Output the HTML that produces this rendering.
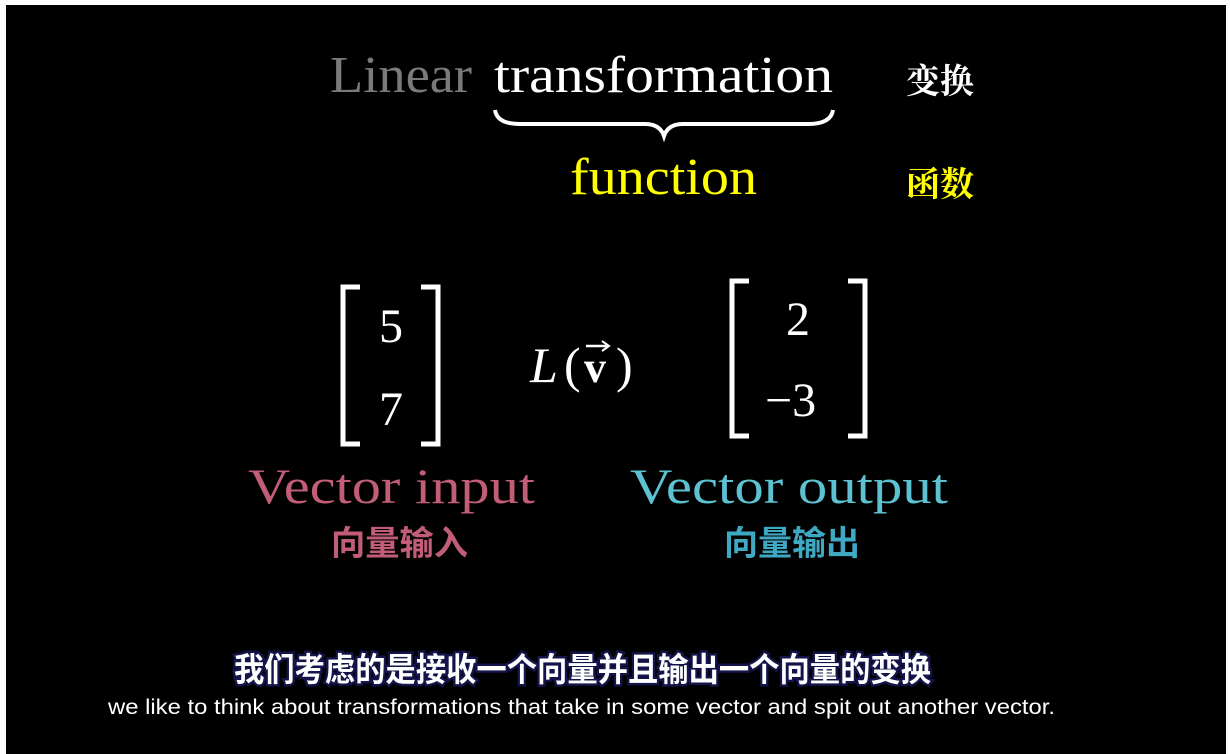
<!DOCTYPE html>
<html><head><meta charset="utf-8"><style>
html,body{margin:0;padding:0;background:#fff;}
svg{display:block}
</style></head><body>
<svg width="1230" height="754" viewBox="0 0 1230 754" xmlns="http://www.w3.org/2000/svg">
<rect x="0" y="0" width="1230" height="754" fill="#fff"/>
<rect x="6" y="5" width="1220" height="749" fill="#000"/>
<g font-family="'Liberation Serif', serif">
<text x="330" y="92" font-size="52" fill="#7a7a7a" textLength="142" lengthAdjust="spacingAndGlyphs">Linear</text>
<text x="494" y="92" font-size="52" fill="#fff" textLength="339" lengthAdjust="spacingAndGlyphs">transformation</text>
<text x="570" y="194" font-size="52" fill="#ffff00" textLength="187" lengthAdjust="spacingAndGlyphs">function</text>
<text x="379" y="342" font-size="48" fill="#fff">5</text>
<text x="379" y="425" font-size="48" fill="#fff">7</text>
<text x="786" y="335" font-size="48" fill="#fff">2</text>
<text x="765" y="416" font-size="48" fill="#fff">−3</text>
<text x="530" y="382" font-size="50" fill="#fff" font-style="italic">L</text>
<text x="564" y="382" font-size="50" fill="#fff">(</text>
<text x="584" y="382" font-size="44" fill="#fff" font-weight="bold">v</text>
<text x="616" y="382" font-size="50" fill="#fff">)</text>
<text x="248" y="503" font-size="50" fill="#c25d78" textLength="287" lengthAdjust="spacingAndGlyphs">Vector input</text>
<text x="630" y="503" font-size="50" fill="#5cc2d2" textLength="318" lengthAdjust="spacingAndGlyphs">Vector output</text>
</g>
<path d="M586 346 L608 346" stroke="#fff" stroke-width="2.5"/>
<path d="M602 341 L609 346 L602 351" stroke="#fff" stroke-width="2" fill="none"/>
<path d="M495 110 Q497 124 520 124 L645 124 Q660 124 664 136 Q668 124 683 124 L808 124 Q831 124 833 110" stroke="#fff" stroke-width="4" fill="none"/>
<g stroke="#fff" stroke-width="5" fill="none">
<path d="M360 287 L343 287 L343 444 L360 444"/>
<path d="M421 287 L438 287 L438 444 L421 444"/>
<path d="M749 281 L732 281 L732 436 L749 436"/>
<path d="M848 281 L865 281 L865 436 L848 436"/>
</g>
<g font-family="'Noto Serif CJK SC', serif" font-weight="bold">
<text x="906" y="93" font-size="34" fill="#fff" textLength="68" lengthAdjust="spacingAndGlyphs">变换</text>
<text x="906" y="196" font-size="34" fill="#ffff00" textLength="68" lengthAdjust="spacingAndGlyphs">函数</text>
</g>
<g font-family="'Liberation Sans','Noto Sans CJK SC', sans-serif" font-weight="bold">
<text x="331" y="555" font-size="34" fill="#c25d78" textLength="137" lengthAdjust="spacingAndGlyphs">向量输入</text>
<text x="724" y="555" font-size="34" fill="#3fa9c4" textLength="136" lengthAdjust="spacingAndGlyphs">向量输出</text>
<text x="234" y="681" font-size="33" fill="#fff" stroke="#14144a" stroke-width="5" paint-order="stroke" textLength="697" lengthAdjust="spacingAndGlyphs">我们考虑的是接收一个向量并且输出一个向量的变换</text>
</g>
<text x="108" y="714" font-family="'Liberation Sans', sans-serif" font-size="21" fill="#fff" textLength="947" lengthAdjust="spacingAndGlyphs">we like to think about transformations that take in some vector and spit out another vector.</text>
</svg>
</body></html>
